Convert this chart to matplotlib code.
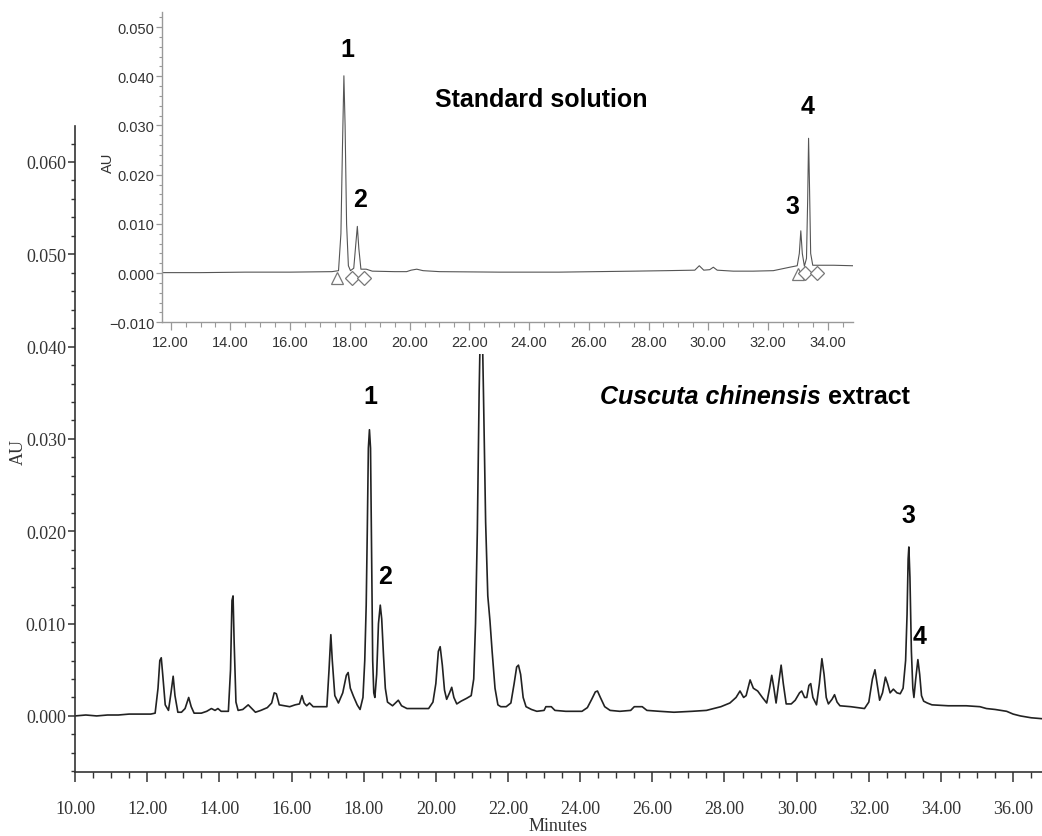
import matplotlib
matplotlib.use("Agg")
import matplotlib.pyplot as plt
from matplotlib.patches import Rectangle
from matplotlib.ticker import MultipleLocator, FuncFormatter

# extract chromatogram (main panel)
extract_time = [10.00, 10.30, 10.60, 10.90, 11.20, 11.50, 11.80, 12.10, 12.22, 12.30, 12.35, 12.39,
                12.43, 12.50, 12.59, 12.66, 12.72, 12.77, 12.85, 12.95, 13.05, 13.15, 13.22, 13.30,
                13.50, 13.65, 13.78, 13.88, 13.96, 14.05, 14.25, 14.31, 14.35, 14.38, 14.41, 14.46,
                14.52, 14.65, 14.80, 14.90, 15.00, 15.15, 15.33, 15.45, 15.52, 15.58, 15.66, 15.80,
                15.95, 16.10, 16.22, 16.29, 16.35, 16.42, 16.50, 16.60, 16.80, 16.98, 17.04, 17.09,
                17.13, 17.20, 17.30, 17.42, 17.52, 17.57, 17.63, 17.72, 17.82, 17.90, 17.98, 18.03,
                18.07, 18.10, 18.13, 18.16, 18.19, 18.22, 18.25, 18.28, 18.31, 18.36, 18.41, 18.46,
                18.50, 18.55, 18.60, 18.66, 18.80, 18.96, 19.05, 19.20, 19.50, 19.80, 19.92, 20.00,
                20.07, 20.12, 20.18, 20.24, 20.30, 20.38, 20.44, 20.50, 20.58, 20.70, 20.85, 20.98,
                21.05, 21.10, 21.15, 21.20, 21.26, 21.32, 21.38, 21.44, 21.50, 21.56, 21.64, 21.72,
                21.80, 21.95, 22.08, 22.17, 22.24, 22.29, 22.35, 22.42, 22.50, 22.65, 22.80, 23.00,
                23.05, 23.20, 23.30, 23.60, 24.05, 24.20, 24.32, 24.42, 24.48, 24.56, 24.68, 24.83,
                25.10, 25.40, 25.50, 25.72, 25.85, 26.20, 26.60, 27.10, 27.50, 27.70, 27.90, 28.15,
                28.32, 28.43, 28.53, 28.60, 28.71, 28.80, 28.92, 29.05, 29.17, 29.25, 29.31, 29.37,
                29.43, 29.50, 29.57, 29.63, 29.71, 29.85, 29.96, 30.08, 30.14, 30.22, 30.28, 30.34,
                30.39, 30.45, 30.55, 30.63, 30.70, 30.76, 30.82, 30.88, 30.98, 31.05, 31.12, 31.20,
                31.50, 31.88, 32.00, 32.10, 32.17, 32.23, 32.30, 32.38, 32.46, 32.52, 32.59, 32.68,
                32.78, 32.87, 32.95, 33.02, 33.06, 33.09, 33.11, 33.14, 33.18, 33.22, 33.25, 33.30,
                33.36, 33.41, 33.46, 33.52, 33.62, 33.75, 34.20, 34.70, 35.08, 35.26, 35.50, 35.82,
                36.00, 36.20, 36.50, 36.80]
extract_au = [0.0000, 0.0001, 0.0000, 0.0001, 0.0001, 0.0002, 0.0002, 0.0002, 0.0003, 0.0030, 0.0060, 0.0063,
              0.0045, 0.0012, 0.0006, 0.0025, 0.0043, 0.0022, 0.0004, 0.0004, 0.0008, 0.0020, 0.0010, 0.0003,
              0.0003, 0.0005, 0.0008, 0.0006, 0.0008, 0.0005, 0.0005, 0.0050, 0.0125, 0.0130, 0.0080, 0.0015,
              0.0006, 0.0007, 0.0012, 0.0008, 0.0004, 0.0006, 0.0009, 0.0014, 0.0025, 0.0024, 0.0012, 0.0011,
              0.0010, 0.0012, 0.0013, 0.0022, 0.0014, 0.0011, 0.0014, 0.0010, 0.0010, 0.0010, 0.0050, 0.0088,
              0.0060, 0.0022, 0.0014, 0.0025, 0.0044, 0.0047, 0.0030, 0.0021, 0.0012, 0.0007, 0.0020, 0.0060,
              0.0120, 0.0200, 0.0290, 0.0310, 0.0290, 0.0180, 0.0060, 0.0025, 0.0020, 0.0045, 0.0100, 0.0120,
              0.0105, 0.0065, 0.0030, 0.0015, 0.0011, 0.0017, 0.0011, 0.0008, 0.0008, 0.0008, 0.0015, 0.0035,
              0.0070, 0.0075, 0.0055, 0.0028, 0.0018, 0.0025, 0.0031, 0.0020, 0.0013, 0.0016, 0.0019, 0.0022,
              0.0040, 0.0100, 0.0200, 0.0350, 0.0480, 0.0350, 0.0210, 0.0130, 0.0103, 0.0070, 0.0030, 0.0012,
              0.0010, 0.0010, 0.0014, 0.0035, 0.0053, 0.0055, 0.0045, 0.0020, 0.0010, 0.0007, 0.0005, 0.0006,
              0.0010, 0.0010, 0.0006, 0.0005, 0.0005, 0.0009, 0.0018, 0.0026, 0.0027, 0.0020, 0.0010, 0.0006,
              0.0005, 0.0006, 0.0010, 0.0010, 0.0006, 0.0005, 0.0004, 0.0005, 0.0006, 0.0008, 0.0010, 0.0014,
              0.0020, 0.0027, 0.0020, 0.0022, 0.0039, 0.0030, 0.0027, 0.0020, 0.0014, 0.0030, 0.0044, 0.0030,
              0.0014, 0.0035, 0.0055, 0.0035, 0.0013, 0.0013, 0.0017, 0.0025, 0.0027, 0.0020, 0.0020, 0.0033,
              0.0035, 0.0020, 0.0012, 0.0035, 0.0062, 0.0045, 0.0020, 0.0013, 0.0018, 0.0023, 0.0015, 0.0011,
              0.0010, 0.0008, 0.0015, 0.0040, 0.0050, 0.0035, 0.0017, 0.0025, 0.0042, 0.0035, 0.0025, 0.0029,
              0.0025, 0.0024, 0.0030, 0.0060, 0.0110, 0.0170, 0.0183, 0.0150, 0.0070, 0.0030, 0.0020, 0.0040,
              0.0061, 0.0045, 0.0022, 0.0016, 0.0014, 0.0012, 0.0011, 0.0011, 0.0010, 0.0008, 0.0007, 0.0005,
              0.0002, 0.0000, -0.0002, -0.0003]

# standard solution chromatogram (inset)
std_time = [11.71, 13.00, 14.50, 16.00, 17.40, 17.62, 17.70, 17.75, 17.80, 17.84, 17.89, 17.95,
            18.02, 18.13, 18.20, 18.25, 18.30, 18.37, 18.55, 18.75, 19.50, 19.90, 20.05, 20.24,
            20.45, 21.00, 23.00, 25.00, 27.50, 28.60, 29.55, 29.70, 29.85, 30.05, 30.17, 30.30,
            30.84, 31.50, 32.18, 32.73, 32.98, 33.05, 33.10, 33.15, 33.22, 33.29, 33.33, 33.36,
            33.39, 33.43, 33.50, 34.20, 34.84]
std_au = [0.0001, 0.0001, 0.0002, 0.0002, 0.0003, 0.0005, 0.0080, 0.0250, 0.0401, 0.0300, 0.0100, 0.0015,
          0.0005, 0.0010, 0.0060, 0.0095, 0.0050, 0.0008, 0.0008, 0.0004, 0.0003, 0.0003, 0.0006, 0.0008,
          0.0005, 0.0003, 0.0002, 0.0002, 0.0004, 0.0005, 0.0006, 0.0015, 0.0006, 0.0007, 0.0012, 0.0006,
          0.0004, 0.0004, 0.0005, 0.0012, 0.0015, 0.0040, 0.0086, 0.0040, 0.0014, 0.0030, 0.0150, 0.0274,
          0.0180, 0.0040, 0.0016, 0.0016, 0.0015]

# integration markers in the inset
start_time = [17.58, 33.00]
start_au = [-0.0010, -0.0002]
end_time = [18.06, 18.47, 33.23, 33.63]
end_au = [-0.0009, -0.0009, 0.0001, 0.0001]

# peak labels
extract_peaks = ["1", "2", "3", "4"]
extract_peak_time = [18.18, 18.59, 33.09, 33.42]
extract_peak_au = [0.0346, 0.0152, 0.0218, 0.0087]
std_peaks = ["1", "2", "3", "4"]
std_peak_time = [17.90, 18.34, 32.81, 33.34]
std_peak_au = [0.0455, 0.0150, 0.0136, 0.0339]

SERIF = ["Liberation Serif", "DejaVu Serif"]
SANS = ["Liberation Sans", "DejaVu Sans"]


def minus_fmt(fmt):
    return FuncFormatter(lambda v, p: (fmt % v).replace("-", "\u2212"))


fig = plt.figure(figsize=(10.42, 8.37), dpi=100)

# main panel
ax = fig.add_axes([0.0720, 0.0765, 0.928, 0.7718])
ax.plot(extract_time, extract_au, color="#222222", lw=1.2)
ax.set_xlim(10.0, 36.8)
ax.set_ylim(-0.00607, 0.0639)
ax.spines["top"].set_visible(False)
ax.spines["right"].set_visible(False)
for s in ("left", "bottom"):
    ax.spines[s].set_color("#333333")
    ax.spines[s].set_linewidth(1.2)
ax.xaxis.set_major_locator(MultipleLocator(2))
ax.xaxis.set_minor_locator(MultipleLocator(0.5))
ax.yaxis.set_major_locator(MultipleLocator(0.01))
ax.yaxis.set_minor_locator(MultipleLocator(0.002))
ax.xaxis.set_major_formatter(minus_fmt("%.2f"))
ax.yaxis.set_major_formatter(minus_fmt("%.3f"))
ax.tick_params(axis="x", which="major", length=7, width=1.1, pad=13, colors="#333333", labelsize=13)
ax.tick_params(axis="x", which="minor", length=4.5, width=1.0, colors="#333333")
ax.tick_params(axis="y", which="major", length=5, width=1.1, pad=1.5, colors="#333333", labelsize=13)
ax.tick_params(axis="y", which="minor", length=3, width=1.0, colors="#333333")
for lab in ax.get_xticklabels() + ax.get_yticklabels():
    lab.set_family(SERIF)
    lab.set_color("#333333")
ax.set_xlabel("Minutes", family=SERIF, fontsize=13, color="#333333", labelpad=0)
fig.text(18 / 1042, 1 - 452 / 837, "AU", rotation=90, ha="center", va="center",
         family=SERIF, fontsize=13, color="#333333")

for name, t, a in zip(extract_peaks, extract_peak_time, extract_peak_au):
    ax.text(t, a, name, ha="center", va="center", fontsize=18, fontweight="bold", family=SANS)

t1 = ax.text(24.55, 0.0347, "Cuscuta chinensis", ha="left", va="center", fontsize=18,
             fontweight="bold", fontstyle="italic", family=SANS)
ax.annotate(" extract", xy=(1, 0), xycoords=t1, ha="left", va="bottom", fontsize=18,
            fontweight="bold", family=SANS)

# white panel behind the inset
fig.add_artist(Rectangle((0.092, 0.576), 0.745, 0.424, transform=fig.transFigure,
                         facecolor="white", edgecolor="none", zorder=1))

# inset: standard solution
axi = fig.add_axes([0.1555, 0.6137, 0.6629, 0.3704])
axi.set_zorder(2)
axi.set_facecolor("white")
axi.plot(std_time, std_au, color="#555555", lw=0.8)
axi.plot(start_time, start_au, ls="none", marker="^", ms=9, mfc="white", mec="#777777", mew=0.9)
axi.plot(end_time, end_au, ls="none", marker="D", ms=7, mfc="white", mec="#777777", mew=0.9)
axi.set_xlim(11.71, 34.84)
axi.set_ylim(-0.010, 0.053)
axi.spines["top"].set_visible(False)
axi.spines["right"].set_visible(False)
for s in ("left", "bottom"):
    axi.spines[s].set_color("#999999")
    axi.spines[s].set_linewidth(1.0)
axi.xaxis.set_major_locator(MultipleLocator(2))
axi.xaxis.set_minor_locator(MultipleLocator(0.5))
axi.yaxis.set_major_locator(MultipleLocator(0.01))
axi.yaxis.set_minor_locator(MultipleLocator(0.002))
axi.xaxis.set_major_formatter(minus_fmt("%.2f"))
axi.yaxis.set_major_formatter(minus_fmt("%.3f"))
axi.tick_params(axis="x", which="major", length=6, width=0.9, pad=3, colors="#999999",
                labelcolor="#333333", labelsize=10.5)
axi.tick_params(axis="x", which="minor", length=3.5, width=0.8, colors="#999999")
axi.tick_params(axis="y", which="major", length=4, width=0.9, pad=1.5, colors="#999999",
                labelcolor="#333333", labelsize=10.5)
axi.tick_params(axis="y", which="minor", length=2.5, width=0.8, colors="#999999")
for lab in axi.get_xticklabels() + axi.get_yticklabels():
    lab.set_family(SANS)
fig.text(108 / 1042, 1 - 163 / 837, "AU", rotation=90, ha="center", va="center",
         family=SANS, fontsize=10.5, color="#333333", zorder=3)

for name, t, a in zip(std_peaks, std_peak_time, std_peak_au):
    axi.text(t, a, name, ha="center", va="center", fontsize=18, fontweight="bold", family=SANS)
axi.text(24.40, 0.0354, "Standard solution", ha="center", va="center", fontsize=18,
         fontweight="bold", family=SANS)

fig.savefig("out.png", dpi=100)
